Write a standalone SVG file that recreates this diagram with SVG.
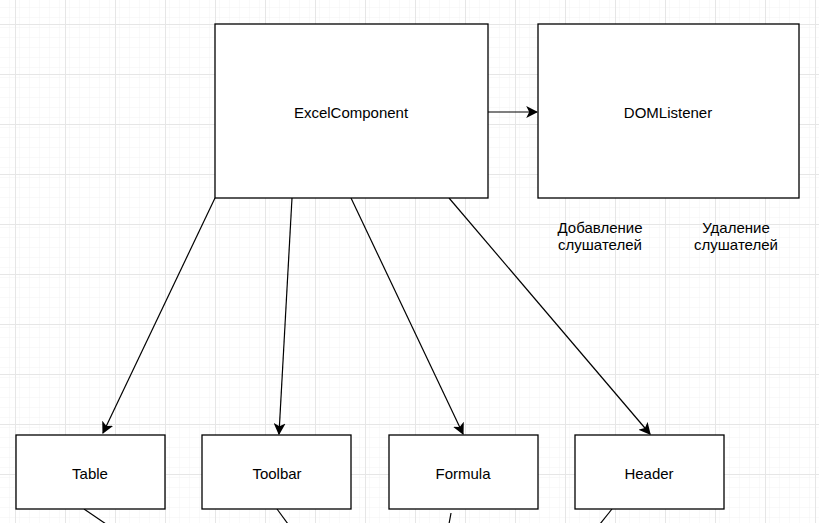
<svg xmlns="http://www.w3.org/2000/svg" width="819" height="523" viewBox="0 0 819 523">
<defs>
<pattern id="minor" width="10" height="10" patternUnits="userSpaceOnUse" x="5" y="4">
<path d="M10 0V10M0 10H10" fill="none" stroke="#f3f3f3" stroke-width="1"/>
</pattern>
<pattern id="major" width="50" height="50" patternUnits="userSpaceOnUse" x="15" y="24">
<rect width="50" height="50" fill="url(#minor)"/>
<path d="M0.5 0V50M0 0.5H50" fill="none" stroke="#e6e6e6" stroke-width="1"/>
</pattern>
<marker id="arr" viewBox="0 0 10 10" refX="9" refY="5" markerWidth="12" markerHeight="12" markerUnits="userSpaceOnUse" orient="auto">
<path d="M0 0L10 5L0 10L2.5 5Z" fill="#000"/>
</marker>
<style>
.box{fill:#fff;stroke:#000;stroke-width:1.3}
.lbl{font-family:"Liberation Sans",Arial,sans-serif;font-size:15px;fill:#000;text-anchor:middle;dominant-baseline:central}
.note{font-family:"Liberation Sans",Arial,sans-serif;font-size:15px;fill:#000;text-anchor:middle}
.con{stroke:#000;stroke-width:1.2;fill:none}
</style>
</defs>
<rect width="819" height="523" fill="#fff"/>
<rect width="819" height="523" fill="url(#major)"/>
<g id="connectors">
<line class="con" x1="488" y1="112" x2="537" y2="112" marker-end="url(#arr)"/>
<line class="con" x1="215" y1="198" x2="103" y2="433" marker-end="url(#arr)"/>
<line class="con" x1="292" y1="198" x2="279" y2="434" marker-end="url(#arr)"/>
<line class="con" x1="351" y1="198" x2="463" y2="434" marker-end="url(#arr)"/>
<line class="con" x1="449" y1="198" x2="650" y2="434" marker-end="url(#arr)"/>
<line class="con" x1="84" y1="509" x2="106" y2="524"/>
<line class="con" x1="277" y1="509" x2="288" y2="524"/>
<line class="con" x1="451" y1="513" x2="449" y2="524"/>
<line class="con" x1="612" y1="509" x2="600" y2="524"/>
</g>
<g id="excel"><rect class="box" x="215" y="24" width="273" height="174"/><text class="lbl" x="351" y="112">ExcelComponent</text></g>
<g id="dom"><rect class="box" x="538" y="24" width="261" height="174"/><text class="lbl" x="668" y="112">DOMListener</text></g>
<g id="note-add"><text class="note" x="600" y="233">Добавление</text><text class="note" x="600" y="250">слушателей</text></g>
<g id="note-del"><text class="note" x="736" y="233">Удаление</text><text class="note" x="736" y="250">слушателей</text></g>
<g id="table"><rect class="box" x="16" y="435" width="149" height="74"/><text class="lbl" x="90" y="473">Table</text></g>
<g id="toolbar"><rect class="box" x="202" y="435" width="149" height="74"/><text class="lbl" x="277" y="473">Toolbar</text></g>
<g id="formula"><rect class="box" x="389" y="435" width="149" height="74"/><text class="lbl" x="463" y="473">Formula</text></g>
<g id="header"><rect class="box" x="575" y="435" width="149" height="74"/><text class="lbl" x="649" y="473">Header</text></g>
</svg>
